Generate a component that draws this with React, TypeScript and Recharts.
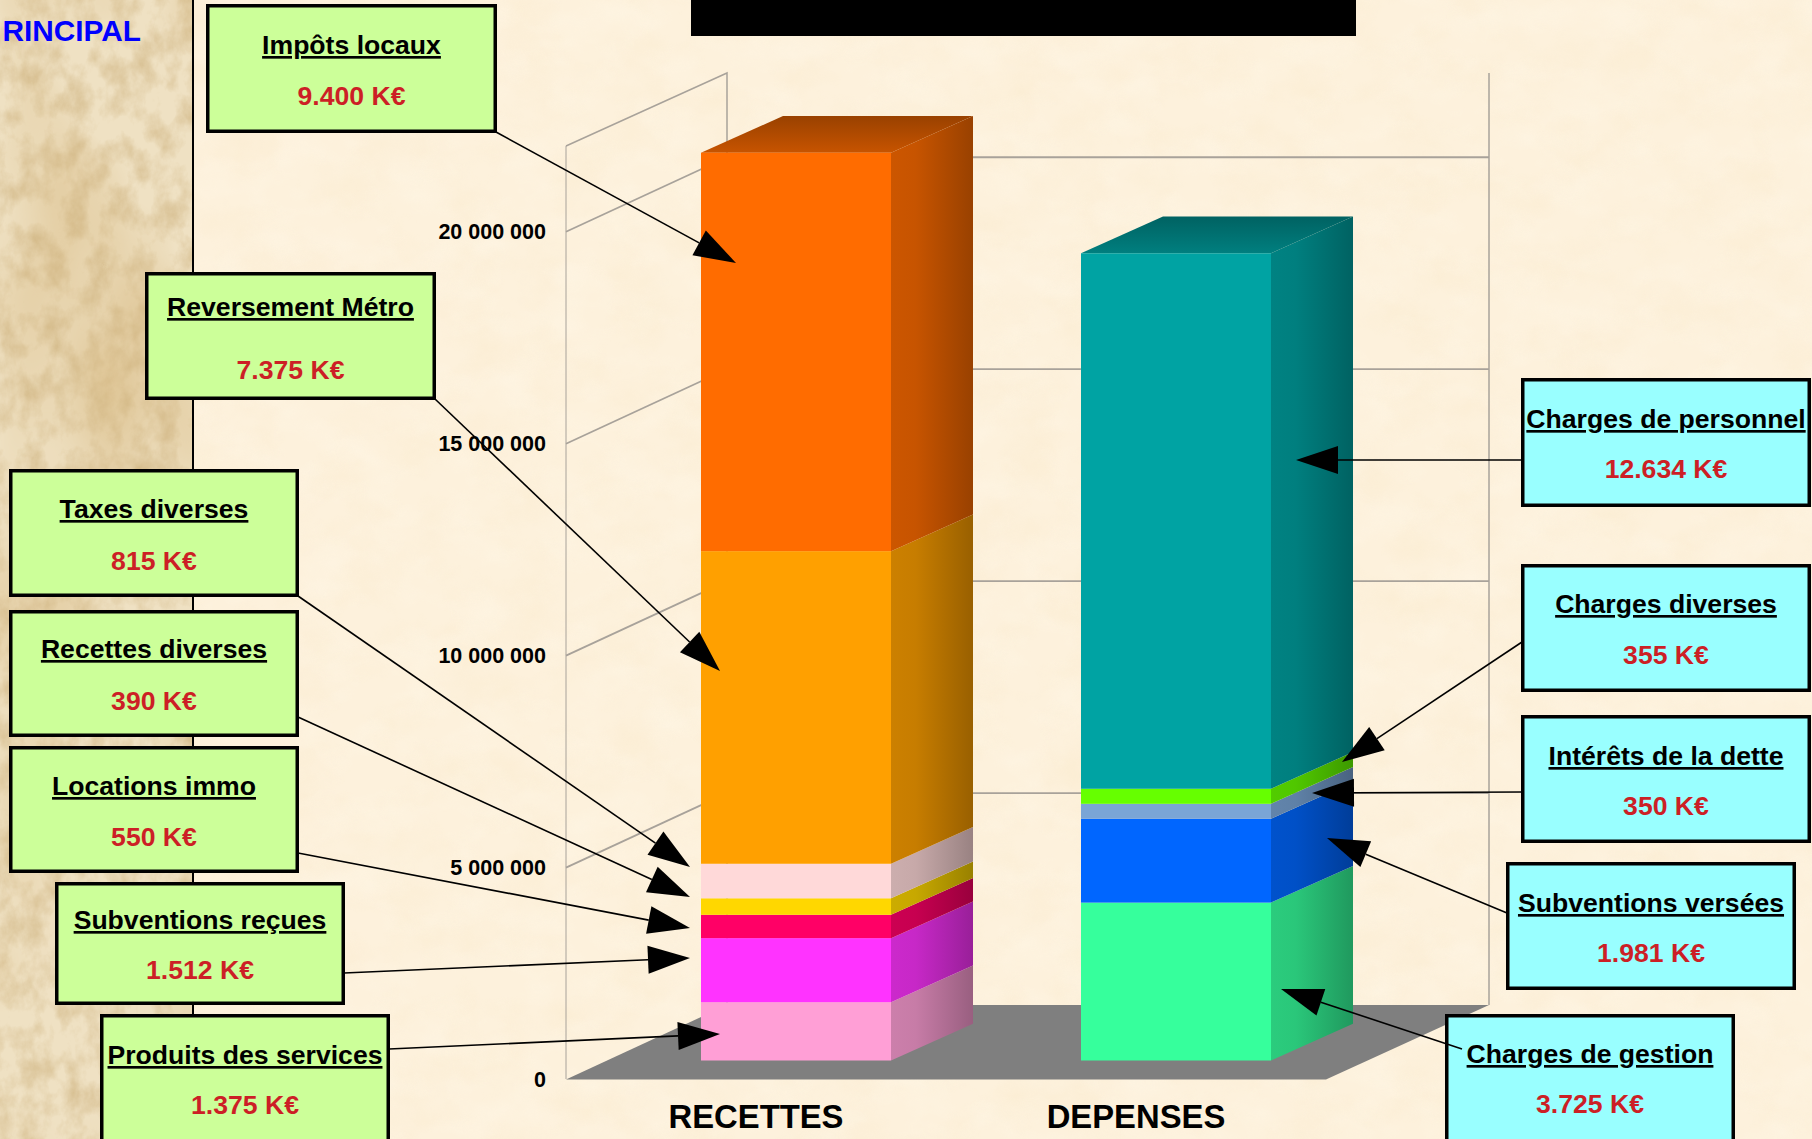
import { Bar, BarChart, CartesianGrid, XAxis, YAxis } from "recharts";

const CATEGORIES = ["RECETTES", "DEPENSES"];

// stacked from the bottom up, values in euros
const RECETTES_NAMES = ["Produits des services", "Subventions reçues", "Locations immo", "Recettes diverses", "Taxes diverses", "Reversement Métro", "Impôts locaux"];
const RECETTES_VALUES = [1375000, 1512000, 550000, 390000, 815000, 7375000, 9400000];
const RECETTES_LABELS = ["1.375 K€", "1.512 K€", "550 K€", "390 K€", "815 K€", "7.375 K€", "9.400 K€"];
const RECETTES_COLORS = ["#FF9FD6", "#FF33FF", "#FF0066", "#FFD700", "#FFD9D9", "#FFA000", "#FF6C00"];

const DEPENSES_NAMES = ["Charges de gestion", "Subventions versées", "Intérêts de la dette", "Charges diverses", "Charges de personnel"];
const DEPENSES_VALUES = [3725000, 1981000, 350000, 355000, 12634000];
const DEPENSES_LABELS = ["3.725 K€", "1.981 K€", "350 K€", "355 K€", "12.634 K€"];
const DEPENSES_COLORS = ["#36FF9C", "#0066FF", "#7AA5D6", "#66FF00", "#00A3A3"];

const Y_TICKS = [0, 5000000, 10000000, 15000000, 20000000];

const FONT = "'Liberation Sans', Arial, sans-serif";

const WALL_DX = 161;
const WALL_DY = -74.5;
const BAR_DX = 40;
const BAR_DY = -19;
const BAR_DEPTH_X = 82;
const BAR_DEPTH_Y = -36.7;
const WALL_COLOR = "#A8A29A";

// [x, y, w, h, titleBaseline, valueBaseline, arrow start x/y, arrow tip x/y], same order as the names
const RECETTES_BOXES = [
  [101, 1015, 288, 128, 1064, 1114, 389, 1049, 720, 1034],
  [56, 883, 288, 121, 929, 979, 344, 973, 690, 958],
  [10, 747, 288, 125, 795, 846, 298, 853, 690, 928],
  [10, 611, 288, 125, 658, 710, 298, 717, 690, 897],
  [10, 470, 288, 126, 518, 570, 298, 596, 690, 867],
  [146, 273, 289, 126, 316, 379, 435, 399, 720, 671],
  [207, 5, 289, 127, 54, 105, 496, 132, 736, 263],
];
const DEPENSES_BOXES = [
  [1446, 1015, 288, 128, 1063, 1113, 1462, 1049, 1281, 989],
  [1507, 863, 288, 126, 912, 962, 1507, 913, 1327, 838],
  [1522, 716, 288, 126, 765, 815, 1522, 792, 1312, 793],
  [1522, 565, 288, 126, 613, 664, 1522, 642, 1342, 762],
  [1522, 379, 288, 127, 428, 478, 1522, 460, 1296, 460],
];

const chartData = CATEGORIES.map((name, c) => {
  const row: Record<string, string | number> = { name };
  (c === 0 ? RECETTES_NAMES : DEPENSES_NAMES).forEach((n, i) => {
    row[n] = (c === 0 ? RECETTES_VALUES : DEPENSES_VALUES)[i];
  });
  return row;
});

function shade(hex: string, k: number) {
  const n = parseInt(hex.slice(1), 16);
  const ch = [(n >> 16) & 255, (n >> 8) & 255, n & 255].map((v) => Math.round(v * k));
  return `rgb(${ch.join(",")})`;
}

function Block(props: any) {
  const { x, y, width, height, fill, isTop, gid } = props;
  if (!height || height <= 0) return null;
  const l = x + BAR_DX;
  const r = l + width;
  const t = y + BAR_DY;
  const b = t + height;
  const xr = r + BAR_DEPTH_X;
  const dy = BAR_DEPTH_Y;
  return (
    <g>
      <defs>
        <linearGradient id={`side-${gid}`} x1="0" y1="0" x2="1" y2="0">
          <stop offset="0" stopColor={shade(fill, 0.8)} />
          <stop offset="0.3" stopColor={shade(fill, 0.78)} />
          <stop offset="1" stopColor={shade(fill, 0.6)} />
        </linearGradient>
        <linearGradient id={`top-${gid}`} x1="0" y1="1" x2="0" y2="0">
          <stop offset="0" stopColor={shade(fill, 0.78)} />
          <stop offset="1" stopColor={shade(fill, 0.6)} />
        </linearGradient>
      </defs>
      <polygon points={`${r},${t} ${xr},${t + dy} ${xr},${b + dy} ${r},${b}`} fill={`url(#side-${gid})`} />
      {isTop && (
        <polygon points={`${l},${t} ${l + BAR_DEPTH_X},${t + dy} ${xr},${t + dy} ${r},${t}`} fill={`url(#top-${gid})`} />
      )}
      <rect x={l} y={t} width={width} height={height} fill={fill} />
    </g>
  );
}

// wall and back lines hang off the y scale through the grid
function WallLine(props: any) {
  const { x1, x2, y1 } = props;
  const xb = x1 + WALL_DX;
  const yb = y1 + WALL_DY;
  return (
    <g>
      <line x1={x1} y1={y1} x2={xb} y2={yb} stroke={WALL_COLOR} strokeWidth={1.8} />
      <line x1={xb} y1={yb} x2={x2 + WALL_DX + 2} y2={yb} stroke={WALL_COLOR} strokeWidth={1.8} />
    </g>
  );
}

function Callout({ box, name, label, color }: { box: number[]; name: string; label: string; color: string }) {
  const [x, y, w, h, ty, vy, sx, sy, tx, tip] = box;
  const cx = x + w / 2;
  const ang = Math.atan2(tip - sy, tx - sx);
  const len = 42;
  const half = 14;
  const bx = tx - len * Math.cos(ang);
  const by = tip - len * Math.sin(ang);
  const nx = -Math.sin(ang) * half;
  const ny = Math.cos(ang) * half;
  return (
    <g fontFamily={FONT} fontWeight={700} textAnchor="middle" fontSize={26.6}>
      <rect x={x + 0.75} y={y + 0.75} width={w - 1.5} height={h - 1.5} fill={color} stroke="#000" strokeWidth={3.5} />
      <line x1={sx} y1={sy} x2={bx} y2={by} stroke="#000" strokeWidth={1.6} />
      <polygon points={`${tx},${tip} ${bx + nx},${by + ny} ${bx - nx},${by - ny}`} fill="#000" />
      <text x={cx} y={ty} fill="#000" textDecoration="underline">{name}</text>
      <text x={cx} y={vy} fill="#CC1F26">{label}</text>
    </g>
  );
}

function Page() {
  return (
    <svg width={1812} height={1139} style={{ position: "absolute", left: 0, top: 0 }}>
      <defs>
        <filter id="paper" x="0" y="0" width="100%" height="100%" colorInterpolationFilters="sRGB">
          <feTurbulence type="fractalNoise" baseFrequency="0.018 0.024" numOctaves={4} seed={4} />
          <feColorMatrix values="0 0 0 0 0.96  0 0 0 0 0.88  0 0 0 0 0.72  1.4 0 0 0 -0.6" />
        </filter>
        <filter id="paperLight" x="0" y="0" width="100%" height="100%" colorInterpolationFilters="sRGB">
          <feTurbulence type="fractalNoise" baseFrequency="0.02 0.03" numOctaves={3} seed={21} />
          <feColorMatrix values="0 0 0 0 1  0 0 0 0 0.98  0 0 0 0 0.93  1.6 0 0 0 -0.7" />
        </filter>
        <filter id="strip" x="0" y="0" width="100%" height="100%" colorInterpolationFilters="sRGB">
          <feTurbulence type="fractalNoise" baseFrequency="0.045 0.035" numOctaves={5} seed={9} />
          <feColorMatrix values="0 0 0 0 0.78  0 0 0 0 0.66  0 0 0 0 0.44  1.1 0 0 0 -0.42" />
        </filter>
        <filter id="stripWide" x="0" y="0" width="100%" height="100%" colorInterpolationFilters="sRGB">
          <feTurbulence type="fractalNoise" baseFrequency="0.006 0.004" numOctaves={3} seed={3} />
          <feColorMatrix values="0 0 0 0 0.84  0 0 0 0 0.72  0 0 0 0 0.5  1.4 0 0 0 -0.62" />
        </filter>
      </defs>
      <rect width={1812} height={1139} fill="#FDF1DC" />
      <rect width={1812} height={1139} filter="url(#paper)" opacity={0.28} />
      <rect width={1812} height={1139} filter="url(#paperLight)" opacity={0.4} />
      <rect width={193} height={1139} fill="#EFE1C3" />
      <rect width={193} height={1139} filter="url(#stripWide)" />
      <rect width={193} height={1139} filter="url(#strip)" />
      <rect x={192} y={0} width={2} height={1139} fill="#000" />
      <rect x={691} y={0} width={665} height={36} fill="#000" />
    </svg>
  );
}

export default function App() {
  return (
    <div style={{ position: "absolute", left: 0, top: 0, width: 1812, height: 1139, overflow: "hidden" }}>
      <Page />
      <div style={{ position: "absolute", left: 0, top: 0 }}>
        <BarChart
          width={1812}
          height={1139}
          data={chartData}
          barCategoryGap="25%"
          margin={{ top: 147, right: 486, bottom: 0, left: 366 }}
        >
          {/* floor and the walls */}
          <polygon points="566,1079.5 1326,1079.5 1489,1005 727,1005" fill="#7F7F7F" />
          <path d="M566 1079 V146" fill="none" stroke={WALL_COLOR} strokeWidth={1} />
          <path d="M566 146 L727 73 V1005 M1489 73 V1005" fill="none" stroke={WALL_COLOR} strokeWidth={1.5} />
          <CartesianGrid
            vertical={false}
            horizontal={(p: any) => (p.y1 > 1070 || p.y1 < 150 ? <g key={p.y1} /> : <WallLine key={p.y1} {...p} />)}
          />
          <XAxis
            dataKey="name"
            height={59.5}
            axisLine={false}
            tickLine={false}
            interval={0}
            tickMargin={19}
            tick={{ fontSize: 32.8, fontWeight: 700, fill: "#000", fontFamily: FONT }}
          />
          <YAxis
            width={200}
            domain={[0, 22000000]}
            ticks={Y_TICKS}
            axisLine={false}
            tickLine={false}
            tickMargin={14}
            tickFormatter={(v: number) => String(v).replace(/\B(?=(\d{3})+$)/g, " ")}
            tick={{ fontSize: 21.5, fontWeight: 700, fill: "#000", fontFamily: FONT }}
          />
          {RECETTES_NAMES.map((n, i) => (
            <Bar
              key={n}
              dataKey={n}
              stackId="a"
              fill={RECETTES_COLORS[i]}
              isAnimationActive={false}
              shape={(p: any) => <Block {...p} gid={`r${i}`} isTop={i === RECETTES_NAMES.length - 1} />}
            />
          ))}
          {DEPENSES_NAMES.map((n, i) => (
            <Bar
              key={n}
              dataKey={n}
              stackId="a"
              fill={DEPENSES_COLORS[i]}
              isAnimationActive={false}
              shape={(p: any) => <Block {...p} gid={`d${i}`} isTop={i === DEPENSES_NAMES.length - 1} />}
            />
          ))}
        </BarChart>
      </div>
      <svg width={1812} height={1139} style={{ position: "absolute", left: 0, top: 0 }}>
        <text x={141} y={41} textAnchor="end" fontFamily={FONT} fontWeight={700} fontSize={29.8} fill="#0000FF">RINCIPAL</text>
        {RECETTES_NAMES.map((n, i) => (
          <Callout key={n} box={RECETTES_BOXES[i]} name={n} label={RECETTES_LABELS[i]} color="#CCFF99" />
        ))}
        {DEPENSES_NAMES.map((n, i) => (
          <Callout key={n} box={DEPENSES_BOXES[i]} name={n} label={DEPENSES_LABELS[i]} color="#99FFFF" />
        ))}
      </svg>
    </div>
  );
}
